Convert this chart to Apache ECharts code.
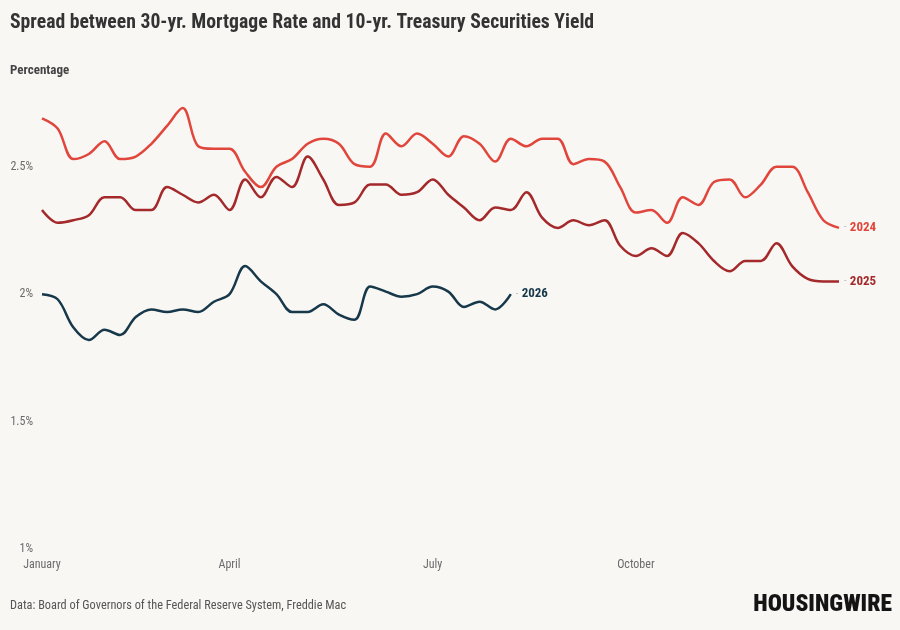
<!DOCTYPE html>
<html>
<head>
<meta charset="utf-8">
<script src="https://cdn.jsdelivr.net/npm/echarts@6/dist/echarts.min.js"></script>
<style>
html,body{margin:0;padding:0;background:#f8f7f4;}
#chart{width:900px;height:630px;}
</style>
</head>
<body>
<div id="chart"></div>
<script>
// Weekly observations (52 weeks)
const weeks = ['W1','W2','W3','W4','W5','W6','W7','W8','W9','W10','W11','W12','W13','W14','W15','W16','W17','W18','W19','W20','W21','W22','W23','W24','W25','W26','W27','W28','W29','W30','W31','W32','W33','W34','W35','W36','W37','W38','W39','W40','W41','W42','W43','W44','W45','W46','W47','W48','W49','W50','W51','W52'];
// Month tick labels at week index
const monthTickIndex = [0, 12, 25, 38];
const monthTickLabel = ['January', 'April', 'July', 'October'];
const yTicks = [1, 1.5, 2, 2.5];

const s2024 = [2.69,2.65,2.53,2.55,2.60,2.53,2.54,2.59,2.66,2.73,2.58,2.57,2.57,2.48,2.42,2.50,2.53,2.59,2.61,2.59,2.51,2.50,2.63,2.58,2.63,2.59,2.54,2.62,2.59,2.52,2.61,2.58,2.61,2.61,2.51,2.53,2.52,2.42,2.32,2.33,2.28,2.38,2.35,2.44,2.45,2.38,2.43,2.50,2.50,2.40,2.29,2.26];
const s2025 = [2.33,2.28,2.29,2.31,2.38,2.38,2.33,2.33,2.42,2.39,2.36,2.39,2.33,2.45,2.38,2.46,2.42,2.54,2.45,2.35,2.36,2.43,2.43,2.39,2.40,2.45,2.39,2.34,2.29,2.34,2.33,2.40,2.30,2.26,2.29,2.27,2.29,2.19,2.15,2.18,2.15,2.24,2.20,2.13,2.09,2.13,2.13,2.20,2.11,2.06,2.05,2.05];
const s2026 = [2.00,1.98,1.87,1.82,1.86,1.84,1.91,1.94,1.93,1.94,1.93,1.97,2.00,2.11,2.05,2.00,1.93,1.93,1.96,1.92,1.90,2.03,2.01,1.99,2.00,2.03,2.01,1.95,1.97,1.94,2.00];

const FONT = "'Roboto Condensed','Liberation Sans Narrow','DejaVu Sans Condensed',Roboto,sans-serif";
const colors = {'2024':'#e0463c','2025':'#a3292a','2026':'#17384a'};

function mkSeries(name, data){
  return {
    name: name, type: 'line', data: data, smooth: 0.35, symbol: 'none',
    lineStyle: {width: 2.5, color: colors[name]},
    itemStyle: {color: colors[name]},
    endLabel: {
      show: true, distance: 5,
      formatter: '{d|-} {n|' + name + '}',
      rich: {
        d: {color: '#b8b8b8', fontSize: 10, fontFamily: FONT},
        n: {color: colors[name], fontSize: 13, fontWeight: 'bold', fontFamily: FONT}
      }
    },
    emphasis: {disabled: true}
  };
}

const chart = echarts.init(document.getElementById('chart'));
chart.setOption({
  backgroundColor: '#f8f7f4',
  animation: false,
  grid: {left: 42, right: 61, top: 103, bottom: 81},
  xAxis: {
    type: 'category', data: weeks, boundaryGap: false,
    axisLine: {show: false}, axisTick: {show: false}, splitLine: {show: false},
    axisLabel: {
      color: '#6b6b6b', fontSize: 12, fontFamily: FONT, margin: 10,
      interval: function(idx){ return monthTickIndex.indexOf(idx) >= 0; },
      formatter: function(v, idx){ const k = monthTickIndex.indexOf(idx); return k >= 0 ? monthTickLabel[k] : ''; }
    }
  },
  yAxis: {
    type: 'value', min: 1, max: 2.75, interval: 0.5,
    axisLine: {show: false}, axisTick: {show: false}, splitLine: {show: false},
    axisLabel: {
      color: '#6b6b6b', fontSize: 12, fontFamily: FONT, margin: 9, showMaxLabel: false,
      padding: [3, 0, 0, 0],
      formatter: function(v){ return yTicks.indexOf(v) >= 0 ? v + '%' : ''; }
    }
  },
  series: [mkSeries('2024', s2024), mkSeries('2025', s2025), mkSeries('2026', s2026)],
  graphic: [
    {type: 'text', left: 10, top: 13, style: {text: 'Spread between 30-yr. Mortgage Rate and 10-yr. Treasury Securities Yield', fill: '#333333', font: 'bold 19.7px ' + FONT}},
    {type: 'text', left: 10, top: 64, style: {text: 'Percentage', fill: '#444444', font: 'bold 13px ' + FONT}},
    {type: 'text', left: 10, top: 600, style: {text: 'Data: Board of Governors of the Federal Reserve System, Freddie Mac', fill: '#555555', font: '12.3px ' + FONT}},
    {type: 'text', right: 8, top: 593, style: {text: 'HOUSINGWIRE', fill: '#141414', font: '900 23.5px ' + FONT}}
  ]
});
</script>
</body>
</html>
